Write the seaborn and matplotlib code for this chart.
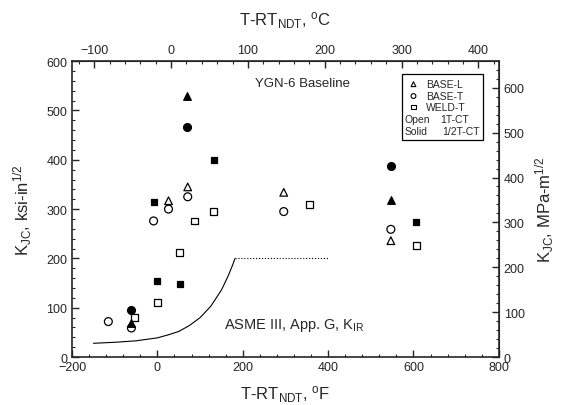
import seaborn as sns
import matplotlib.pyplot as plt
from matplotlib.ticker import MultipleLocator
from matplotlib.patches import Rectangle

# T-RT_NDT (F) and K_JC (ksi-in^1/2)
basel_open_x = [26, 71, 296, 547]
basel_open_y = [317, 345, 334, 236]
basel_solid_x = [-61, 70, 547]
basel_solid_y = [70, 530, 319]
baset_open_x = [-115, -61, -9, 26, 71, 296, 547]
baset_open_y = [72, 59, 276, 300, 325, 295, 259]
baset_solid_x = [-61, 70, 547]
baset_solid_y = [95, 466, 387]
weldt_open_x = [-54, 0, 52, 87, 132, 356, 607]
weldt_open_y = [80, 111, 212, 276, 295, 309, 226]
weldt_solid_x = [-9, 0, 54, 132, 607]
weldt_solid_y = [314, 155, 148, 399, 273]

# ASME K_IR curve
kir_x = [-150, -100, -50, 0, 25, 50, 75, 100, 125, 150, 165, 175, 182]
kir_y = [28, 30, 33, 39, 45, 52, 64, 80, 103, 136, 163, 184, 200]
cap_x = [182, 400]
cap_y = [200, 200]

sns.set_style("ticks")
plt.rcParams['font.family'] = ['Liberation Sans', 'DejaVu Sans']
plt.rcParams['mathtext.default'] = 'regular'

fig = plt.figure(figsize=(5.63, 4.06), dpi=100)
ax = fig.add_axes([0.128, 0.118, 0.758, 0.729])

groups = [
    (basel_open_x, basel_open_y, '^', 'none', 30),
    (basel_solid_x, basel_solid_y, '^', 'k', 30),
    (baset_open_x, baset_open_y, 'o', 'none', 32),
    (baset_solid_x, baset_solid_y, 'o', 'k', 32),
    (weldt_open_x, weldt_open_y, 's', 'none', 22),
    (weldt_solid_x, weldt_solid_y, 's', 'k', 22),
]
for gx, gy, m, fc, s in groups:
    sns.scatterplot(x=gx, y=gy, marker=m, s=s, facecolor=fc, edgecolor='k',
                    linewidth=0.9, ax=ax, zorder=3)

sns.lineplot(x=kir_x, y=kir_y, color='k', lw=0.8, ax=ax, sort=False)
sns.lineplot(x=cap_x, y=cap_y, color='k', lw=0.8, ls=':', ax=ax, sort=False)

ax.set_xlim(-200, 800)
ax.set_ylim(0, 600)
ax.xaxis.set_major_locator(MultipleLocator(200))
ax.xaxis.set_minor_locator(MultipleLocator(40))
ax.yaxis.set_major_locator(MultipleLocator(100))
ax.yaxis.set_minor_locator(MultipleLocator(20))
ax.tick_params(which='major', direction='in', length=5, width=1, labelsize=9)
ax.tick_params(which='minor', direction='in', length=2.5, width=0.8)
ax.tick_params(axis='x', pad=3)
for sp in ax.spines.values():
    sp.set_linewidth(1.2)
    sp.set_visible(True)

ax.set_xlabel('T-RT$_{NDT}$, $^o$F', fontsize=12, labelpad=7)
ax.set_ylabel('K$_{JC}$, ksi-in$^{1/2}$', fontsize=12, labelpad=9)

top = ax.secondary_xaxis('top', functions=(lambda f: (f - 32) / 1.8,
                                           lambda c: c * 1.8 + 32))
top.xaxis.set_major_locator(MultipleLocator(100))
top.xaxis.set_minor_locator(MultipleLocator(20))
top.tick_params(which='major', direction='in', length=5, width=1, labelsize=9)
top.tick_params(which='minor', direction='in', length=2.5, width=0.8)
top.set_xlabel('T-RT$_{NDT}$, $^o$C', fontsize=12, labelpad=14)

right = ax.secondary_yaxis('right', functions=(lambda k: k * 1.0988,
                                               lambda m: m / 1.0988))
right.yaxis.set_major_locator(MultipleLocator(100))
right.yaxis.set_minor_locator(MultipleLocator(20))
right.tick_params(which='major', direction='in', length=5, width=1, labelsize=9)
right.tick_params(which='minor', direction='in', length=2.5, width=0.8)
right.set_ylabel('K$_{JC}$, MPa-m$^{1/2}$', fontsize=12, labelpad=6)

ax.text(0.54, 0.925, 'YGN-6 Baseline', transform=ax.transAxes, fontsize=9.5,
        ha='center', va='center')
ax.text(0.355, 0.11, 'ASME III, App. G, K$_{IR}$', transform=ax.transAxes,
        fontsize=10.5, ha='left', va='center')

# legend box
ax.add_patch(Rectangle((0.772, 0.735), 0.19, 0.222, transform=ax.transAxes,
                       fill=False, ec='k', lw=0.9, zorder=4))
leg_rows = [('^', 'BASE-L', 0.922), ('o', 'BASE-T', 0.882), ('s', 'WELD-T', 0.845)]
for m, lab, yy in leg_rows:
    ax.scatter([0.8], [yy], marker=m, s=12, facecolor='none', edgecolor='k',
               linewidth=0.8, transform=ax.transAxes, zorder=5)
    ax.text(0.83, yy, lab, transform=ax.transAxes, fontsize=7.5, va='center')
ax.text(0.778, 0.805, 'Open', transform=ax.transAxes, fontsize=7.5, va='center')
ax.text(0.93, 0.805, '1T-CT', transform=ax.transAxes, fontsize=7.5, va='center', ha='right')
ax.text(0.778, 0.765, 'Solid', transform=ax.transAxes, fontsize=7.5, va='center')
ax.text(0.955, 0.765, '1/2T-CT', transform=ax.transAxes, fontsize=7.5, va='center', ha='right')

fig.savefig('out.png', dpi=100)
